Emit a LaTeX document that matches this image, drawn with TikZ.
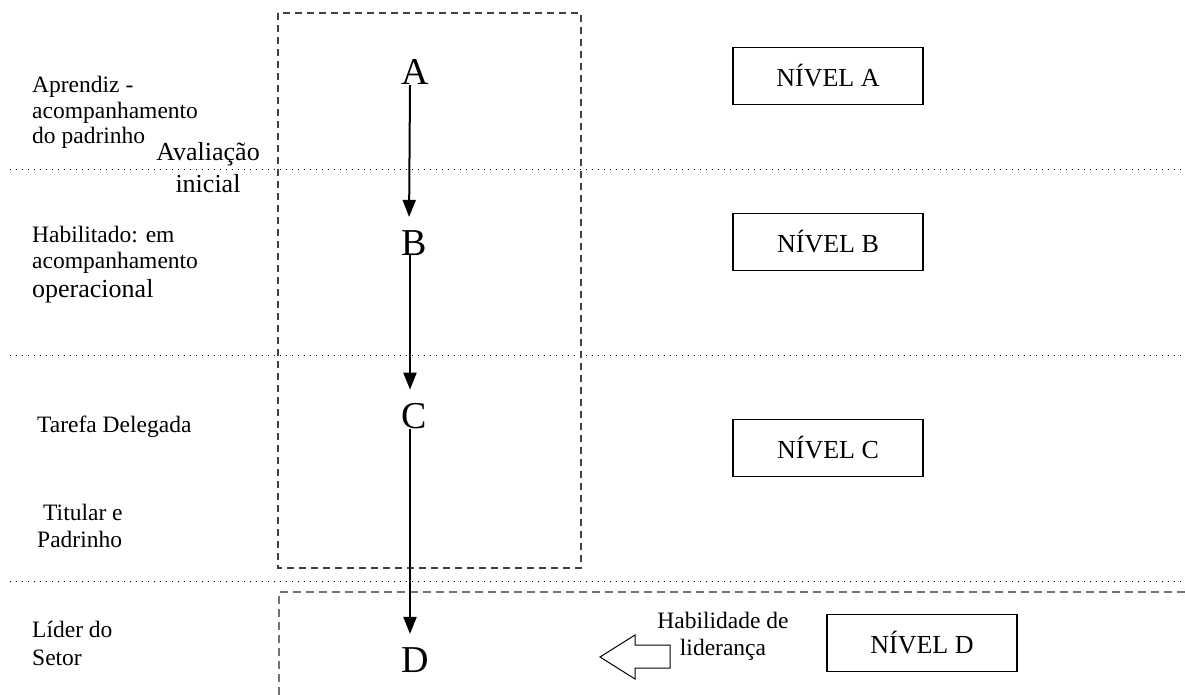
\documentclass[tikz,border=0pt]{standalone}
\usepackage{fontspec}
\setmainfont{Liberation Serif}
\usetikzlibrary{positioning}
\usetikzlibrary{arrows.meta}

\begin{document}
\begin{tikzpicture}[x=1pt,y=-1pt,
	levelbox/.style={draw, line width=1.3pt, minimum width=190pt, minimum height=57pt, font=\fontsize{26}{30}\selectfont},
	letter/.style={inner sep=0pt, anchor=base, font=\fontsize{38}{40}\selectfont},
	note/.style={inner sep=0pt, align=left, anchor=north west, font=\fontsize{23.5}{25.5}\selectfont},
	flow/.style={-{Triangle[length=17pt,width=13pt]}, line width=2pt, shorten >=13pt},
	divider/.style={line width=1pt, dash pattern=on 1.2pt off 4.8pt}]
			\useasboundingbox (0,0) rectangle (1185,695);
			% bands and frames
			\draw[divider] (10,170) -- (1185,170);
			\draw[divider] (10,355) -- (1185,355);
			\draw[divider] (10,581) -- (1185,581);
			\draw[black!75, line width=1.1pt, dash pattern=on 7pt off 5pt] (278,13) rectangle (581,568);
			\draw[black!55, line width=1.4pt, dash pattern=on 8pt off 5pt] (279,695) -- (279,592) -- (1185,592);
			% left column
			\node[note] (Aprendiz) at (32,76) {Aprendiz -\\acompanhamento\\do padrinho};
			\node[note, align=center, anchor=north, font=\fontsize{26}{32}\selectfont] (Avaliacao) at (208,142) {Avaliação\\inicial};
			\node[note] (Habilitado) at (32,226) {Habilitado: em\\acompanhamento\\[4pt]{\fontsize{26}{28}\selectfont operacional}};
			\node[note] (Tarefa) at (37,416) {Tarefa Delegada};
			\node[note, font=\fontsize{23.5}{27}\selectfont] (Titular) at (37,504) {\hspace{6pt}Titular e\\Padrinho};
			\node[note, font=\fontsize{23.5}{28}\selectfont] (Lider) at (32,621) {Líder do\\Setor};
			% stages
			\node[letter] (A) at (415,85) {A};
			\node[letter] (B) at (414,255) {B};
			\node[letter] (C) at (414,428) {C};
			\node[letter] (D) at (415,672) {D};
			\draw[flow] ([xshift=-5pt]A.south) -- ([xshift=-5pt]B.north);
			\draw[flow] ([xshift=-4pt]B.south) -- ([xshift=-4pt]C.north);
			\draw[flow] ([xshift=-4pt]C.south) -- ([xshift=-5pt]D.north);
			% levels
			\node[levelbox] (NivelA) at (828,76) {NÍVEL A};
			\node[levelbox] (NivelB) at (828,242) {NÍVEL B};
			\node[levelbox] (NivelC) at (828,448) {NÍVEL C};
			\node[levelbox] (NivelD) at (922,643) {NÍVEL D};
			% leadership arrow
			\draw[line width=1pt] (600,657) -- (635,635) -- (635,645) -- (670,645) -- (670,668) -- (635,668) -- (635,679) -- cycle;
			\node[note, align=center, anchor=north, font=\fontsize{23.5}{27}\selectfont] (Habilidade) at (723,612) {Habilidade de\\liderança};
		\end{tikzpicture}
\end{document}
